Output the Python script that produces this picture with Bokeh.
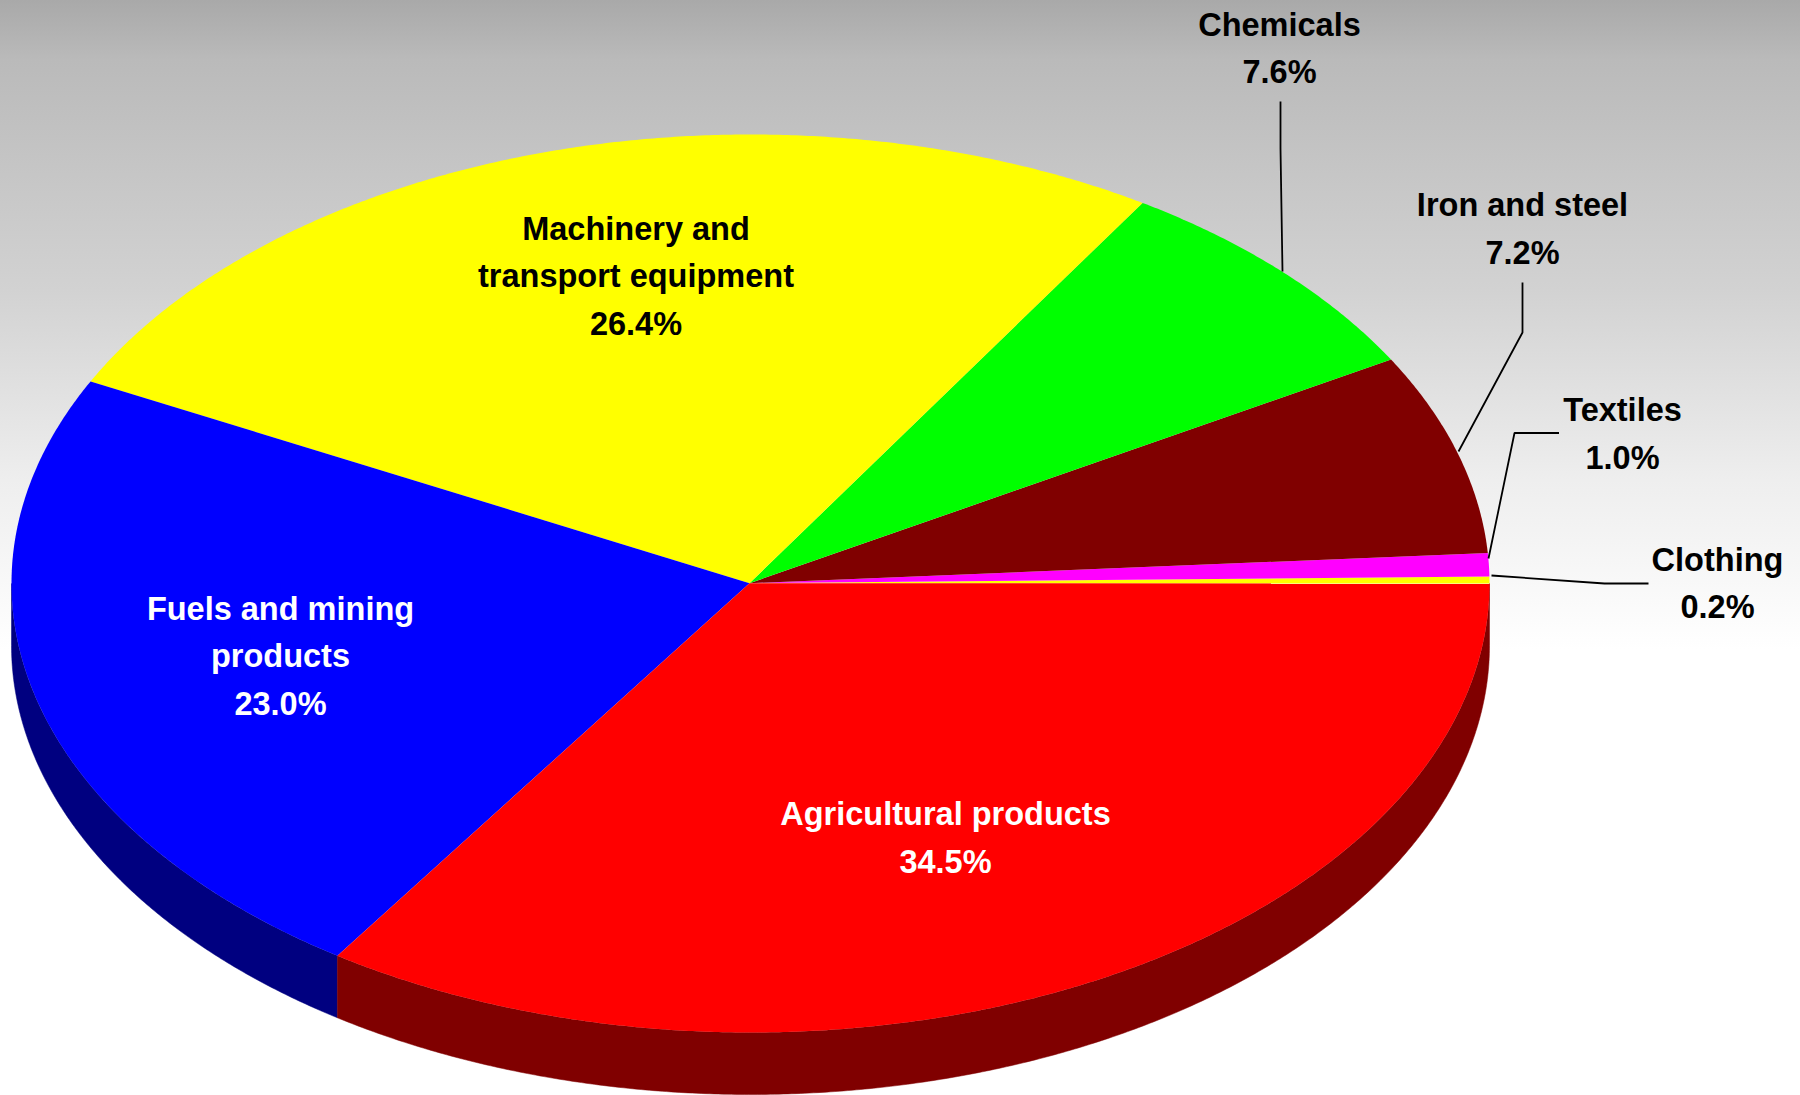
import numpy as np
from bokeh.plotting import figure
from bokeh.embed import file_html
from bokeh.resources import INLINE
from bokeh.core.properties import value
from bokeh.models import Range1d

# Data, counter-clockwise from the 3 o'clock position
categories = ["Clothing", "Textiles", "Iron and steel", "Chemicals",
              "Machinery and\ntransport equipment", "Fuels and mining\nproducts",
              "Agricultural products"]
percent_labels = ["0.2%", "1.0%", "7.2%", "7.6%", "26.4%", "23.0%", "34.5%"]
# slice sizes as measured on the picture (the printed labels are rounded)
shares = [0.25, 0.83, 7.23, 7.79, 26.47, 22.99, 34.44]
top_colors = ["#ffff00", "#ff00ff", "#800000", "#00ff00", "#ffff00", "#0000ff", "#ff0000"]
side_colors = ["#808000", "#800080", "#400000", "#008000", "#808000", "#000080", "#800000"]
label_colors = ["#000000", "#000000", "#000000", "#000000", "#000000", "#ffffff", "#ffffff"]

# Geometry in page pixels
CX, CY, RX, RY, DEPTH = 750.0, 583.0, 739.0, 449.0, 62.0
APEX_X, APEX_Y = 749.0, 582.7
label_x = [1717, 1622, 1522, 1279, 635.5, 280, 945]
label_y = [559, 409.5, 204.5, 24.0, 228.0, 608.0, 813.5]   # first line anchor
LINE = 47.5
leaders = [
    ([1648, 1604, 1491], [583, 583, 575]),
    ([1558.5, 1514, 1488], [432.5, 432.5, 558]),
    ([1522, 1522, 1458], [282, 332, 451]),
    ([1280, 1280, 1282], [101, 148, 271]),
]

p = figure(width=1800, height=1095, output_backend="svg", toolbar_location=None,
           x_range=Range1d(0, 1800), y_range=Range1d(1095, 0),
           min_border=0, outline_line_color=None,
           styles={"background": "linear-gradient(to bottom, #a9a9a9 0px, #bababa 60px, "
                                 "#d2d2d2 290px, #eeeeee 480px, #ffffff 650px)"})
p.background_fill_alpha = 0
p.border_fill_alpha = 0
p.axis.visible = False
p.grid.visible = False

total = sum(shares)
edges = np.cumsum([0.0] + shares) / total * 2 * np.pi


def arc(a0, a1, dy=0.0):
    n = max(3, int(np.degrees(a1 - a0) * 3))
    t = np.linspace(a0, a1, n)
    return CX + RX * np.cos(t), CY - RY * np.sin(t) + dy


# Sides: only the near half of the rim is visible
for i in range(len(shares)):
    a0, a1 = max(edges[i], np.pi), edges[i + 1]
    if a1 <= a0:
        continue
    xt, yt = arc(a0, a1)
    xb, yb = arc(a0, a1, DEPTH)
    p.patch(np.r_[xt, xb[::-1]], np.r_[yt, yb[::-1]], fill_color=side_colors[i],
            line_color=side_colors[i], line_width=0.5)

# Top face
for i in range(len(shares)):
    xa, ya = arc(edges[i], edges[i + 1])
    p.patch(np.r_[APEX_X, xa], np.r_[APEX_Y, ya], fill_color=top_colors[i],
            line_color=None)

# Leader lines
for xs, ys in leaders:
    p.line(xs, ys, line_color="#000000", line_width=1.8)

# Labels
for i, cat in enumerate(categories):
    lines = cat.split("\n") + [percent_labels[i]]
    for j, s in enumerate(lines):
        p.text([label_x[i]], [label_y[i] + j * LINE], text=[s],
               text_font=value("Liberation Sans"), text_font_style="bold",
               text_font_size="32.5px", text_color=label_colors[i],
               text_align="center", text_baseline="alphabetic")

open("out.html", "w").write(file_html(p, INLINE))
